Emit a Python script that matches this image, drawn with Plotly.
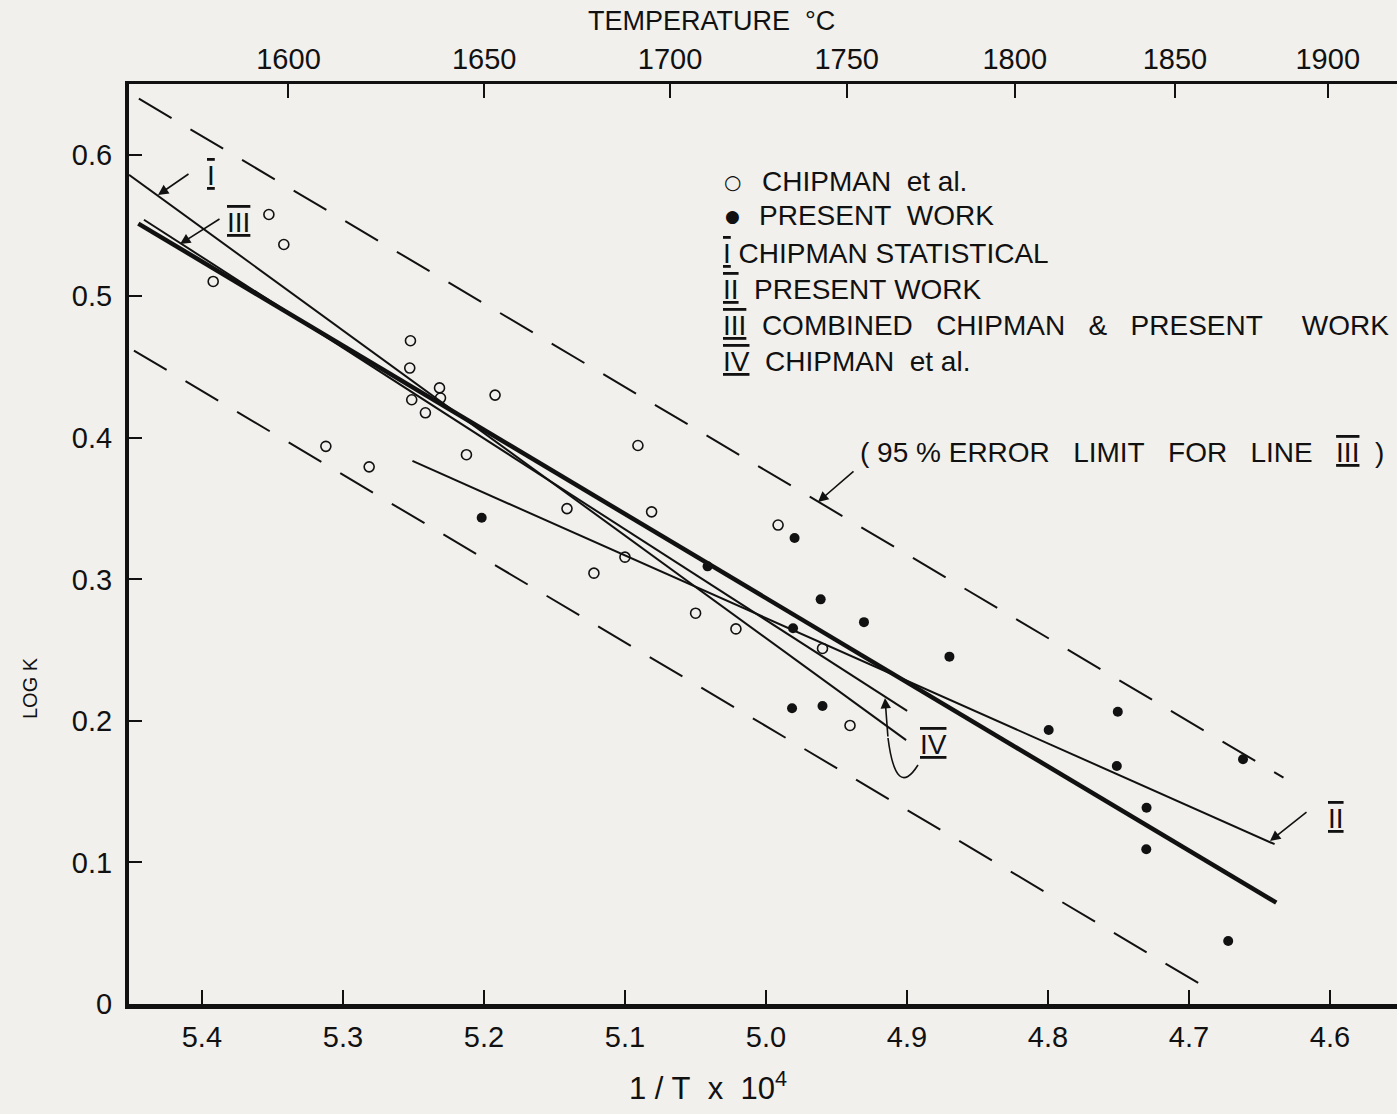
import plotly.graph_objects as go

# ---------------- data ----------------
chip_x = [5.392, 5.3525, 5.3419, 5.3121, 5.2814, 5.2521, 5.2526, 5.2512, 5.2415, 5.2315,
          5.2308, 5.1921, 5.2124, 5.1411, 5.1220, 5.1000, 5.0908, 5.0811, 5.0499, 5.0213,
          4.9914, 4.9599, 4.9404]
chip_y = [0.5105, 0.5578, 0.5366, 0.3940, 0.3795, 0.4686, 0.4493, 0.4269, 0.4177, 0.4353,
          0.4281, 0.4302, 0.3881, 0.3500, 0.3044, 0.3157, 0.3946, 0.3477, 0.2761, 0.2650,
          0.3384, 0.2512, 0.1968]

pres_x = [5.2016, 5.0414, 4.9797, 4.9808, 4.9815, 4.9612, 4.9599, 4.9305, 4.8699, 4.7995,
          4.7505, 4.7512, 4.7301, 4.7303, 4.6722, 4.6617]
pres_y = [0.3435, 0.3092, 0.3292, 0.2655, 0.2090, 0.2859, 0.2106, 0.2698, 0.2454, 0.1936,
          0.2065, 0.1681, 0.1387, 0.1093, 0.0445, 0.1729]

lineI_x, lineI_y = [5.4517, 4.9006], [0.5859, 0.1864]
lineII_x, lineII_y = [5.2507, 4.6393], [0.3837, 0.1129]
lineIII_x, lineIII_y = [5.4451, 4.6381], [0.5514, 0.0716]
lineIV_x, lineIV_y = [5.4411, 4.8999], [0.5541, 0.2071]
upper_x, upper_y = [5.4447, 4.6330], [0.6396, 0.1599]
lower_x, lower_y = [5.4482, 4.6863], [0.4617, 0.0106]

x_ticks = [5.4, 5.3, 5.2, 5.1, 5.0, 4.9, 4.8, 4.7, 4.6]
x_ticklabels = ["5.4", "5.3", "5.2", "5.1", "5.0", "4.9", "4.8", "4.7", "4.6"]
y_ticks = [0, 0.1, 0.2, 0.3, 0.4, 0.5, 0.6]
y_ticklabels = ["0", "0.1", "0.2", "0.3", "0.4", "0.5", "0.6"]
temp_c = [1600, 1650, 1700, 1750, 1800, 1850, 1900]

# ---------------- layout geometry ----------------
W, H = 1397, 1114
ML, MR, MT, MB = 129, 0, 84, 110
XR = [5.4517, 4.5525]
YR = [0, 0.65]
PW, PH = W - ML - MR, H - MT - MB


def PX(x):
    return (x - ML) / PW


def PY(y):
    return (H - MB - y) / PH


FONT = "Liberation Sans"
INK = "#111111"
BG = "#f1f0ec"

fig = go.Figure()

dash = "38px,22px"
for xs, ys in [(upper_x, upper_y), (lower_x, lower_y)]:
    fig.add_trace(go.Scatter(x=xs, y=ys, mode="lines",
                             line=dict(color=INK, width=2, dash=dash),
                             hoverinfo="skip"))
for xs, ys, w in [(lineI_x, lineI_y, 2), (lineII_x, lineII_y, 2),
                  (lineIV_x, lineIV_y, 2), (lineIII_x, lineIII_y, 4.5)]:
    fig.add_trace(go.Scatter(x=xs, y=ys, mode="lines",
                             line=dict(color=INK, width=w), hoverinfo="skip"))

fig.add_trace(go.Scatter(x=chip_x, y=chip_y, mode="markers", name="CHIPMAN et al.",
                         marker=dict(symbol="circle-open", size=10, color=INK,
                                     line=dict(width=1.6, color=INK))))
fig.add_trace(go.Scatter(x=pres_x, y=pres_y, mode="markers", name="PRESENT WORK",
                         marker=dict(symbol="circle", size=10, color=INK)))

# top temperature axis (dummy trace to activate x2)
temp_pos = [1e4 / (t + 273.15) for t in temp_c]
fig.add_trace(go.Scatter(x=[XR[0]], y=[0], xaxis="x2", mode="markers",
                         marker=dict(opacity=0), hoverinfo="skip"))

fig.update_layout(
    width=W, height=H,
    margin=dict(l=ML, r=MR, t=MT, b=MB, pad=0),
    paper_bgcolor=BG, plot_bgcolor=BG,
    showlegend=False,
    font=dict(family=FONT, color=INK),
    xaxis=dict(range=XR, tickmode="array", tickvals=x_ticks, ticktext=x_ticklabels,
               ticks="inside", ticklen=14, tickwidth=1.5, tickcolor=INK,
               showline=True, linewidth=4.5, linecolor=INK, showgrid=False,
               zeroline=False, tickfont=dict(size=29, family=FONT),
               ticklabelstandoff=3),
    xaxis2=dict(range=XR, overlaying="x", side="top", anchor="y",
                tickmode="array", tickvals=temp_pos, ticktext=[str(t) for t in temp_c],
                ticks="inside", ticklen=14, tickwidth=1.5, tickcolor=INK,
                showline=True, linewidth=3, linecolor=INK, showgrid=False,
                zeroline=False, tickfont=dict(size=29, family=FONT),
                ticklabelstandoff=0),
    yaxis=dict(range=YR, tickmode="array", tickvals=y_ticks, ticktext=y_ticklabels,
               ticks="inside", ticklen=13, tickwidth=1.5, tickcolor=INK,
               showline=True, linewidth=4, linecolor=INK, showgrid=False,
               zeroline=False, tickfont=dict(size=29, family=FONT),
               ticklabelstandoff=7),
)

ann = []


def text(x, y, s, size=28, xanchor="left", angle=0):
    ann.append(dict(xref="paper", yref="paper", x=PX(x), y=PY(y), text=s,
                    showarrow=False, xanchor=xanchor, yanchor="middle",
                    textangle=angle, font=dict(size=size, family=FONT, color=INK)))


def arrow(tx, ty, ax, ay):
    ann.append(dict(xref="paper", yref="paper", x=PX(tx), y=PY(ty), text="",
                    showarrow=True, ax=ax, ay=ay, arrowhead=2, arrowsize=1.3,
                    arrowwidth=1.6, arrowcolor=INK, standoff=0))


def roman(s):
    return '<span style="text-decoration:underline overline">%s</span>' % s


NB = "\u00a0"
# titles
text(711, 21, "TEMPERATURE" + NB * 2 + "°C", size=27, xanchor="center")
text(708, 1086, "1 / T" + NB * 2 + "x" + NB * 2 + "10<sup>4</sup>", size=31, xanchor="center")
text(30, 688, "LOG" + NB + "K", size=20, xanchor="center", angle=-90)

# legend block
ann.append(dict(xref="paper", yref="paper", x=PX(732), y=PY(182), text="○",
                showarrow=False, xanchor="center", yanchor="middle",
                font=dict(size=20, family="DejaVu Sans", color=INK)))
ann.append(dict(xref="paper", yref="paper", x=PX(732), y=PY(216), text="●",
                showarrow=False, xanchor="center", yanchor="middle",
                font=dict(size=17, family="DejaVu Sans", color=INK)))
text(760, 181, "CHIPMAN" + NB * 2 + "et" + NB + "al.")
text(757, 216, "PRESENT" + NB * 2 + "WORK")
text(721, 253, roman("I") + " CHIPMAN" + NB + "STATISTICAL")
text(721, 289, roman("II") + NB + " PRESENT" + NB + "WORK")
text(721, 325, roman("III") + NB + " COMBINED" + NB * 2 + " CHIPMAN" + NB * 2 + " &amp;" + NB * 2 +
     " PRESENT" + NB * 5 + "WORK")
text(721, 361, roman("IV") + NB + " CHIPMAN" + NB * 2 + "et" + NB + "al.")

# line labels & arrows
text(205, 175, roman("I"))
arrow(158, 195, 32, -22)
text(238, 222, roman("III"), xanchor="center")
arrow(180, 244, 41, -26)
text(858, 453, "(" + NB + "95" + NB + "%" + NB + "ERROR" + NB * 2 + " LIMIT" + NB * 2 + " FOR" + NB * 2 +
     " LINE" + NB * 2 + " " + roman("III") + NB * 2 + ")", size=28)
arrow(818, 502, 37, -32)
text(933, 744, roman("IV"), xanchor="center")
arrow(885, 698, 3, 40)
text(1336, 818, roman("II"), xanchor="center")
arrow(1270, 841, 38, -30)

fig.update_layout(annotations=ann)

# curved tail of the IV arrow
fig.add_shape(type="path", xref="paper", yref="paper",
              path="M %f,%f Q %f,%f %f,%f" % (PX(888), PY(738), PX(896), PY(800),
                                              PX(918), PY(765)),
              line=dict(color=INK, width=1.6))

fig.write_html("out.html",
               config={"displayModeBar": False},
               post_script="document.body.style.margin='0px';"
                           "document.body.style.overflow='hidden';")
